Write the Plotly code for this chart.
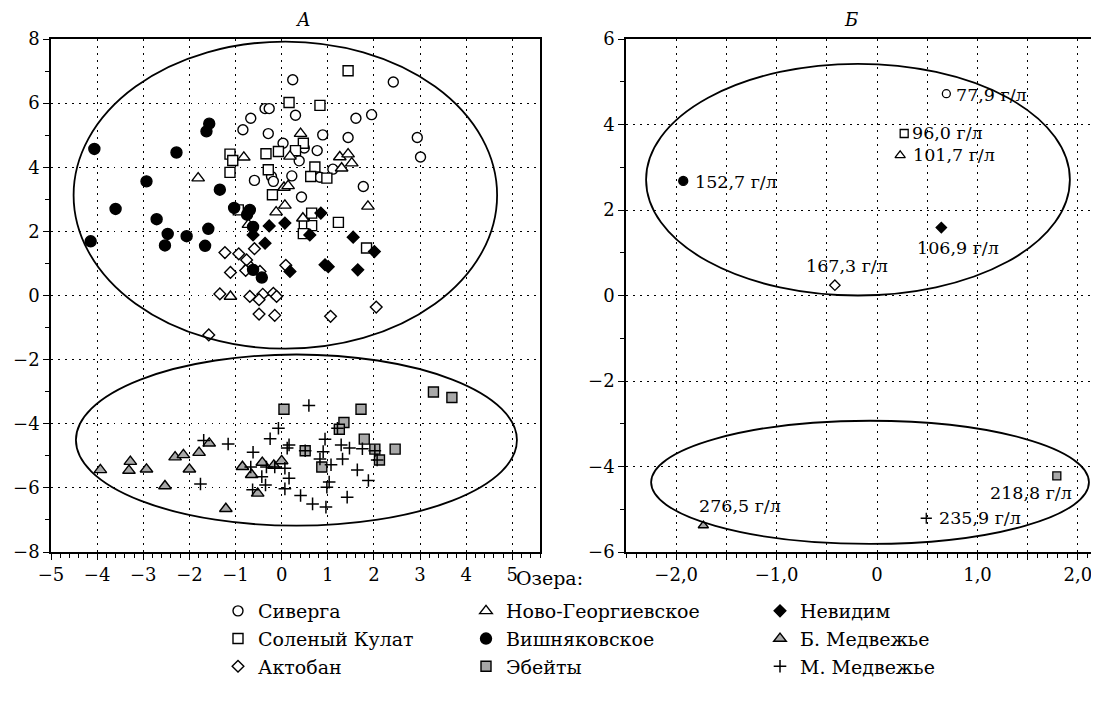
import plotly.graph_objects as go

# ---------------- Panel A data (one list pair per lake) ----------------
siverga_x = [-0.36, -0.27, -0.67, -0.84, -0.29, -0.59, -0.22, -0.18, 0.24, 2.42, 0.30, 1.61, 1.95,
             0.89, 1.44, 2.94, 0.03, 0.49, 0.77, 0.38, 3.01, 1.11, 0.22, 0.83, 1.77, 0.43]
siverga_y = [5.83, 5.83, 5.53, 5.17, 5.05, 3.59, 3.71, 3.56, 6.73, 6.66, 5.62, 5.53, 5.64,
             5.01, 4.93, 4.93, 4.75, 4.60, 4.52, 4.20, 4.32, 3.94, 3.73, 3.69, 3.40, 3.07]

kulat_x = [-1.12, -1.06, -1.12, -0.34, -0.07, -0.29, -0.20, -0.94, 1.44, 0.16, 0.83, 0.47, 0.30,
           0.72, 0.63, 0.98, 0.65, 1.23, 0.49, 0.65, 0.47, 1.84]
kulat_y = [4.41, 4.21, 3.84, 4.42, 4.49, 3.92, 3.14, 2.67, 7.01, 6.02, 5.93, 4.75, 4.52,
           4.01, 3.71, 3.66, 2.57, 2.28, 2.24, 2.18, 1.93, 1.48]

novogeorg_x = [-0.82, -1.81, -0.12, -0.72, 0.41, 0.18, 1.26, 1.44, 1.52, 1.30, 0.05, 0.14, 0.07,
               1.87, 0.46, -1.11, -0.70]
novogeorg_y = [4.31, 3.66, 2.60, 2.21, 5.05, 4.34, 4.32, 4.41, 4.13, 3.97, 3.37, 3.42, 2.81,
               2.78, 2.41, -0.03, 0.96]

aktoban_x = [-1.23, -0.93, -0.59, -0.76, -1.11, -0.78, -0.47, -1.34, -0.69, -0.41, -0.49, -0.18,
             -0.11, -0.49, -0.15, -1.58, 0.09, 1.06, 2.05]
aktoban_y = [1.34, 1.30, 1.46, 1.11, 0.72, 0.78, 0.75, 0.05, -0.03, 0.04, -0.13, 0.07,
             -0.03, -0.58, -0.62, -1.23, 0.94, -0.65, -0.36]

vishnyak_x = [-1.57, -1.63, -4.06, -2.28, -2.93, -1.34, -3.60, -2.71, -1.03, -0.69, -0.75, -0.62,
              -1.59, -2.47, -2.06, -4.14, -2.53, -1.66, -0.62, -0.43]
vishnyak_y = [5.36, 5.12, 4.57, 4.46, 3.56, 3.30, 2.70, 2.38, 2.73, 2.67, 2.52, 2.14,
              2.08, 1.92, 1.85, 1.69, 1.56, 1.55, 0.80, 0.56]

nevidim_x = [0.85, -0.27, 0.07, 0.61, -0.36, 1.55, 2.01, 0.94, 1.01, 1.65, 0.18, -0.62]
nevidim_y = [2.57, 2.17, 2.26, 1.89, 1.63, 1.82, 1.37, 0.96, 0.90, 0.80, 0.75, 1.89]

bmedv_x = [-3.93, -3.28, -3.31, -2.93, -2.53, -2.31, -2.13, -2.00, -1.79, -1.57, -1.21, -0.85,
           -0.65, -0.42, -0.52, -0.17, 0.00]
bmedv_y = [-5.44, -5.18, -5.46, -5.42, -5.94, -5.04, -4.97, -5.42, -4.90, -4.61, -6.65, -5.34,
           -5.59, -5.21, -6.17, -5.30, -5.16]

ebeity_x = [0.05, 1.72, 3.29, 3.69, 1.35, 1.25, 1.79, 0.51, 2.02, 2.12, 2.46, 0.87]
ebeity_y = [-3.55, -3.55, -3.01, -3.18, -3.96, -4.17, -4.48, -4.84, -4.79, -5.13, -4.79, -5.35]

mmedv_x = [-1.69, -1.16, -0.25, -0.07, -0.62, -1.76, -0.67, -0.43, -0.35, -0.63, -0.33, -0.15,
           0.59, 0.16, 0.12, 1.21, 0.94, 1.29, 1.47, 1.75, 0.51, 0.90, 0.83, 1.32, 2.02, 2.07,
           1.07, 0.07, 1.64, 0.16, 1.88, 1.03, 0.98, 0.07, 0.41, 1.42, 0.67, 0.96]
mmedv_y = [-4.52, -4.63, -4.47, -4.14, -4.89, -5.88, -5.35, -5.65, -5.91, -6.06, -5.35, -5.35,
           -3.43, -4.66, -4.76, -4.14, -4.48, -4.66, -4.76, -4.78, -4.84, -4.87, -5.10, -5.10,
           -4.84, -5.13, -5.28, -5.39, -5.44, -5.70, -5.77, -5.82, -5.98, -6.03, -6.24, -6.29,
           -6.50, -6.60]

# Ellipses (centre x, centre y, semi-axis x, semi-axis y)
ellipses_a = [(0.08, 3.13, 4.59, 4.79), (0.32, -4.51, 4.78, 2.67)]
ellipses_b = [(-0.19, 2.71, 2.11, 2.71), (-0.07, -4.37, 2.18, 1.44)]

# ---------------- Panel B data (lake means) ----------------
b_lakes = ["Сиверга", "Соленый Кулат", "Ново-Георгиевское", "Вишняковское", "Невидим",
           "Актобан", "Б. Медвежье", "М. Медвежье", "Эбейты"]
b_x = [0.69, 0.27, 0.23, -1.93, 0.64, -0.42, -1.73, 0.49, 1.79]
b_y = [4.72, 3.79, 3.28, 2.68, 1.59, 0.24, -5.38, -5.21, -4.22]
b_labels = ["77,9 г/л", "96,0 г/л", "101,7 г/л", "152,7 г/л", "106,9 г/л",
            "167,3 г/л", "276,5 г/л", "235,9 г/л", "218,8 г/л"]

# tick labels
a_xticks = [-5, -4, -3, -2, -1, 0, 1, 2, 3, 4, 5]
b_xtickvals = [-2.0, -1.5, -1.0, -0.5, 0.0, 0.5, 1.0, 1.5, 2.0]
b_xticktext = ["−2,0", "", "−1,0", "", "0", "", "1,0", "", "2,0"]

# ---------------- styles ----------------
FONT = "DejaVu Serif"
GRAY = "#a8a8a8"
PAGE_OFF = 8            # default body margin of the html page
W, H = 1099 - PAGE_OFF, 709 - PAGE_OFF
ML, MT, MB = 51 - PAGE_OFF, 39 - PAGE_OFF, 709 - 552
PW, PH = W - ML, H - MT - MB


def px_x(px):   # page pixel -> container fraction
    return (px - PAGE_OFF) / W


def px_y(py):
    return 1 - (py - PAGE_OFF) / H


def paper_x(px):
    return (px - PAGE_OFF - ML) / PW


def paper_y(py):
    return (552 - py) / PH


styles = {
    "Сиверга": dict(symbol="circle", size=10, color="white"),
    "Соленый Кулат": dict(symbol="square", size=10, color="white"),
    "Ново-Георгиевское": dict(symbol="triangle-up", size=11, color="white"),
    "Актобан": dict(symbol="diamond", size=9, color="white"),
    "Вишняковское": dict(symbol="circle", size=11, color="black"),
    "Невидим": dict(symbol="diamond", size=9, color="black"),
    "Б. Медвежье": dict(symbol="triangle-up", size=11, color=GRAY),
    "Эбейты": dict(symbol="square", size=10, color=GRAY),
    "М. Медвежье": dict(symbol="cross-thin-open", size=9, color="black"),
}
legend_of = {
    "Сиверга": "legend", "Соленый Кулат": "legend", "Актобан": "legend",
    "Ново-Георгиевское": "legend2", "Вишняковское": "legend2", "Эбейты": "legend2",
    "Невидим": "legend3", "Б. Медвежье": "legend3", "М. Медвежье": "legend3",
}
rank = {"Сиверга": 1, "Соленый Кулат": 2, "Актобан": 3,
        "Ново-Георгиевское": 1, "Вишняковское": 2, "Эбейты": 3,
        "Невидим": 1, "Б. Медвежье": 2, "М. Медвежье": 3}

series_a = [
    ("Сиверга", siverga_x, siverga_y),
    ("Соленый Кулат", kulat_x, kulat_y),
    ("Ново-Георгиевское", novogeorg_x, novogeorg_y),
    ("Актобан", aktoban_x, aktoban_y),
    ("Вишняковское", vishnyak_x, vishnyak_y),
    ("Невидим", nevidim_x, nevidim_y),
    ("Б. Медвежье", bmedv_x, bmedv_y),
    ("Эбейты", ebeity_x, ebeity_y),
    ("М. Медвежье", mmedv_x, mmedv_y),
]

fig = go.Figure()
for name, xs, ys in series_a:
    st = styles[name]
    if st["symbol"].endswith("-open"):
        marker = dict(symbol=st["symbol"], size=st["size"], color="black", opacity=1,
                      line=dict(color="black", width=1.5))
    else:
        marker = dict(symbol=st["symbol"], size=st["size"], color=st["color"], opacity=1,
                      line=dict(color="black", width=1.4))
    fig.add_trace(go.Scatter(x=xs, y=ys, mode="markers", name=name, marker=marker,
                             legend=legend_of[name], legendrank=rank[name],
                             xaxis="x", yaxis="y", hoverinfo="skip"))

# panel B points
b_sym, b_col, b_size = [], [], []
for lake in b_lakes:
    st = styles[lake]
    b_sym.append(st["symbol"])
    b_col.append("black" if st["symbol"].endswith("-open") else st["color"])
    b_size.append(max(st["size"] - 2, 8))
fig.add_trace(go.Scatter(x=b_x, y=b_y, mode="markers", showlegend=False,
                         marker=dict(symbol=b_sym, color=b_col, size=b_size, opacity=1,
                                     line=dict(color="black", width=1.3)),
                         xaxis="x2", yaxis="y2", hoverinfo="skip"))

# label placement for panel B (style, not data)
b_anchor = [("left", "middle", 8, -1), ("left", "middle", 6, 0), ("left", "middle", 11, 0),
            ("left", "middle", 10, -1), ("center", "top", 17, -8), ("center", "bottom", 12, 7),
            ("left", "bottom", -6, 8), ("left", "middle", 11, 0), ("right", "top", 17, -5)]
annotations = []
for xv, yv, txt, (xa, ya, xs_, ys_) in zip(b_x, b_y, b_labels, b_anchor):
    annotations.append(dict(x=xv, y=yv, xref="x2", yref="y2", text=txt, showarrow=False,
                            xanchor=xa, yanchor=ya, xshift=xs_, yshift=ys_,
                            font=dict(family=FONT, size=17.5, color="black")))

# panel titles
annotations.append(dict(x=paper_x(293), y=1, xref="paper", yref="paper", text="<i>А</i>",
                        showarrow=False, yanchor="bottom", yshift=7,
                        font=dict(family=FONT, size=18, color="black")))
annotations.append(dict(x=paper_x(860), y=1, xref="paper", yref="paper", text="<i>Б</i>",
                        showarrow=False, yanchor="bottom", yshift=7,
                        font=dict(family=FONT, size=18, color="black")))
# legend heading
annotations.append(dict(x=paper_x(549), y=paper_y(578), xref="paper", yref="paper",
                        text="Озера:", showarrow=False, yanchor="middle", xanchor="center",
                        font=dict(family=FONT, size=19, color="black")))

shapes = []
for (cx, cy, ax_, by_), (xr, yr) in [(e, ("x", "y")) for e in ellipses_a] + \
        [(e, ("x2", "y2")) for e in ellipses_b]:
    shapes.append(dict(type="circle", xref=xr, yref=yr, x0=cx - ax_, x1=cx + ax_,
                       y0=cy - by_, y1=cy + by_, line=dict(color="black", width=1.8),
                       layer="above"))

GRID = dict(showgrid=True, gridcolor="black", gridwidth=1.3, griddash="1.5px,5.5px",
            zeroline=False, showline=True, linecolor="black", linewidth=1.5,
            ticks="outside", ticklen=6, tickwidth=1.3, tickcolor="black", automargin=False,
            tickfont=dict(family=FONT, size=18, color="black"))

legend_common = dict(bgcolor="rgba(0,0,0,0)", orientation="v", xanchor="left", yanchor="top",
                     xref="container", yref="container",
                     font=dict(family=FONT, size=19, color="black"), tracegroupgap=0,
                     traceorder="normal")

fig.update_layout(
    width=W, height=H,
    margin=dict(l=ML, r=0, t=MT, b=MB, autoexpand=False),
    plot_bgcolor="white", paper_bgcolor="white",
    showlegend=True,
    xaxis=dict(domain=[0, paper_x(540)], range=[-5, 5.6], tickmode="array", tickvals=a_xticks,
               mirror=True, anchor="y",
               minor=dict(tick0=0, dtick=0.2, ticks="outside", ticklen=4, tickwidth=1,
                          tickcolor="black", showgrid=False), **GRID),
    yaxis=dict(domain=[0, 1], range=[-8, 8], tick0=0, dtick=2, mirror=True, anchor="x",
               minor=dict(tick0=0, dtick=1, ticks="outside", ticklen=4, tickwidth=1,
                          tickcolor="black", showgrid=False), **GRID),
    xaxis2=dict(domain=[paper_x(626), 1], range=[-2.5, 2.21], tickmode="array",
                tickvals=b_xtickvals, ticktext=b_xticktext, mirror=True, anchor="y2",
                minor=dict(tick0=0, dtick=0.1, ticks="outside", ticklen=4, tickwidth=1,
                           tickcolor="black", showgrid=False), **GRID),
    yaxis2=dict(domain=[0, 1], range=[-6, 6], tick0=0, dtick=2, mirror=False, anchor="x2",
                minor=dict(tick0=0, dtick=1, ticks="outside", ticklen=4, tickwidth=1,
                           tickcolor="black", showgrid=False), **GRID),
    legend=dict(x=px_x(218), y=px_y(592), **legend_common),
    legend2=dict(x=px_x(466), y=px_y(592), **legend_common),
    legend3=dict(x=px_x(760), y=px_y(592), **legend_common),
    annotations=annotations,
    shapes=shapes,
)

fig.write_html("out.html")
